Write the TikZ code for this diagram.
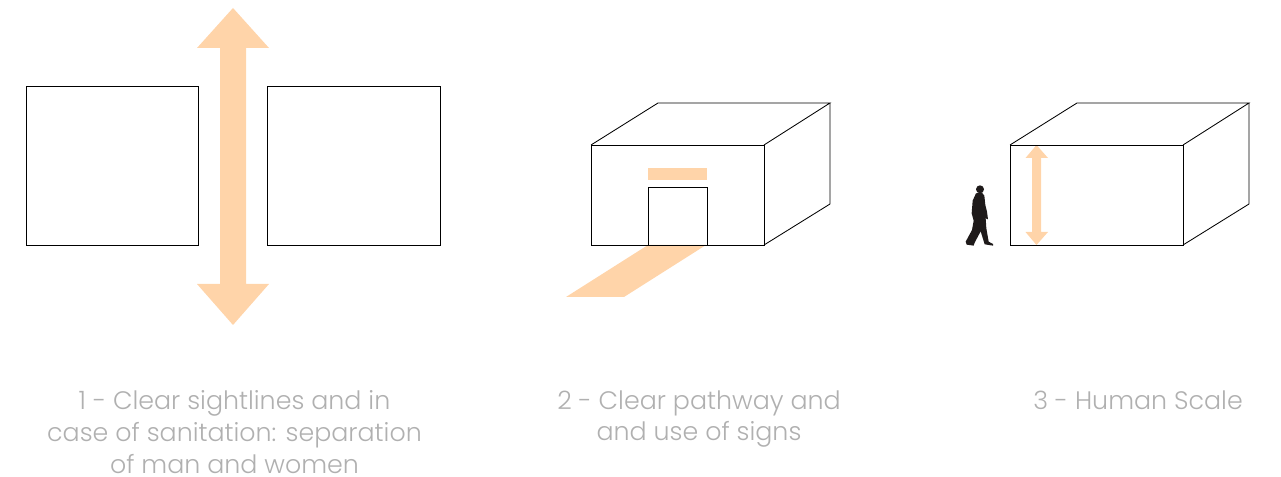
\documentclass[tikz,border=0pt]{standalone}
\usepackage{fontspec}
\setmainfont{Poppins}[UprightFont=* Light]
\usepackage{xcolor}
\definecolor{peach}{HTML}{FFD4A9}
\definecolor{captiongray}{HTML}{B0B0B0}
\definecolor{figure}{HTML}{1E1A1A}
\begin{document}
\begin{tikzpicture}[x=0.25mm,y=-0.25mm,
  wall/.style={draw=black,line width=0.6pt},
  caption/.style={font=\fontsize{18}{22.75}\selectfont,text=captiongray,align=center,inner sep=0pt,anchor=north}]
\useasboundingbox (0,0) rectangle (1281,477);
% big arrow between the two rooms
\fill[peach] (233,8) -- (269,48) -- (246,48) -- (246,284) -- (269,284) -- (233,325)
  -- (197,284) -- (220,284) -- (220,48) -- (197,48) -- cycle;
% (1) the two rooms
\draw[wall] (26,86) rectangle (198,245);
\draw[wall] (267.5,86) rectangle (440,245);
% (2) pathway and sign
\fill[peach] (648,245) -- (706,245) -- (624,297) -- (566,297) -- cycle;
\fill[peach] (648,168) rectangle (707,180);
% (2) box with door
\draw[wall] (591,145) rectangle (764,245);
\draw[wall] (591,145) -- (658,103) -- (830,103) -- (764,145);
\draw[wall] (830,103) -- (830,204) -- (764,245);
\draw[wall] (648,245) -- (648,187) -- (707,187) -- (707,245);
% (3) height arrow
\fill[peach] (1036.5,145) -- (1048,158) -- (1041,158) -- (1041,232) -- (1048,232) -- (1036.5,245)
  -- (1025.5,232) -- (1032,232) -- (1032,158) -- (1025.5,158) -- cycle;
% (3) box
\draw[wall] (1010,145) rectangle (1183,245);
\draw[wall] (1010,145) -- (1077,103) -- (1249,103) -- (1183,145);
\draw[wall] (1249,103) -- (1249,204) -- (1183,245);
% (3) walking figure
\begin{scope}[shift={(950,130)},x=0.25mm/3,y=-0.25mm/3]
\fill[figure] (90,178) circle (12);
\fill[figure] (78,190) -- (68,212) -- (65,250) -- (71,272) -- (66,300) -- (47,335) -- (50,344)
  -- (71,347) -- (74,338) -- (92,304) -- (104,343) -- (129,347) -- (129,342) -- (116,335)
  -- (109,295) -- (107,265) -- (114,268) -- (111,245) -- (106,225) -- (103,197) -- (96,188) -- cycle;
\end{scope}
% captions
\node[caption] (cap1) at (234.5,390) {1 - Clear sightlines and in\\case of sanitation: separation\\of man and women};
\node[caption] (cap2) at (699,390) {2 - Clear pathway and\\and use of signs};
\node[caption] (cap3) at (1138,390) {3 - Human Scale};
\end{tikzpicture}
\end{document}
